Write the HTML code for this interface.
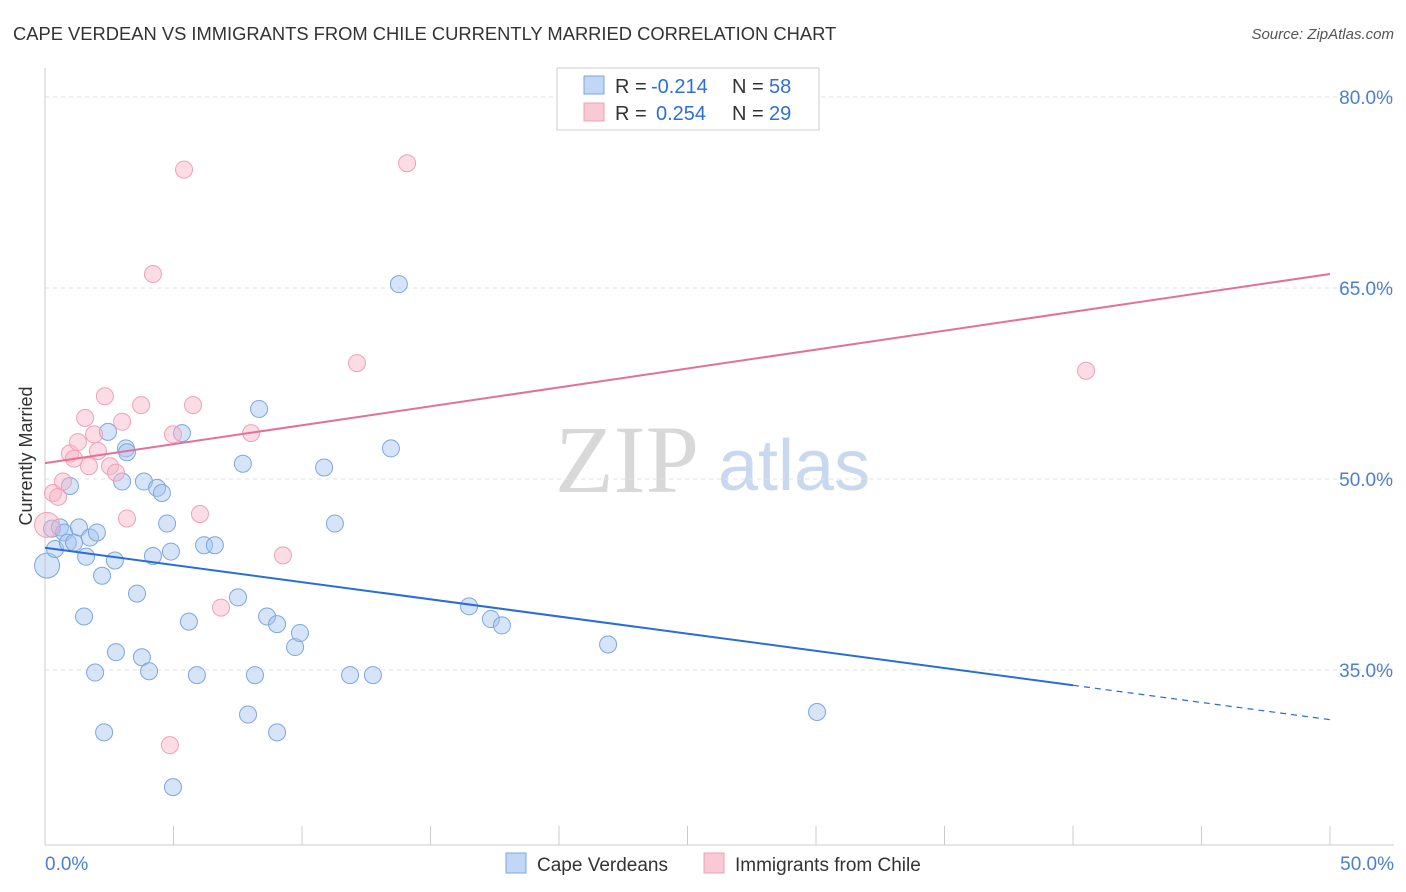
<!DOCTYPE html>
<html><head><meta charset="utf-8"><style>
body{margin:0;background:#fff;font-family:"Liberation Sans",sans-serif;}
#wrap{position:relative;width:1406px;height:892px;overflow:hidden;}
</style></head><body>
<div id="wrap">
<svg id="svg" width="1406" height="892" xmlns="http://www.w3.org/2000/svg">
<text x="13" y="40" font-size="18.35" fill="#333">CAPE VERDEAN VS IMMIGRANTS FROM CHILE CURRENTLY MARRIED CORRELATION CHART</text>
<text x="1394" y="39" font-size="15" fill="#555" text-anchor="end" font-style="italic">Source: ZipAtlas.com</text>
<text x="32" y="456" font-size="18" fill="#333" text-anchor="middle" transform="rotate(-90 32 456)">Currently Married</text>
<text x="555" y="492" font-size="96" fill="#d8d8d8" font-family="Liberation Serif, serif">ZIP</text>
<text x="718" y="490" font-size="72" fill="#c8d8ee">atlas</text>
<g id="grid"></g><g id="marks"></g>
<g>
<rect x="557" y="68" width="262" height="62" fill="#fff" stroke="#ccc"/>
<rect x="584" y="76" width="20" height="18" fill="#c2d7f5" stroke="#7ea6e0"/>
<text x="615" y="93" font-size="20" fill="#333">R =</text>
<text x="651" y="93" font-size="20" fill="#2e6fd6">-0.214</text>
<text x="732" y="93" font-size="20" fill="#333">N =</text>
<text x="769" y="93" font-size="20" fill="#2e6fd6">58</text>
<rect x="584" y="103" width="20" height="18" fill="#f9c9d6" stroke="#f0a0b8"/>
<text x="615" y="120" font-size="20" fill="#333">R =</text>
<text x="656" y="120" font-size="20" fill="#2e6fd6">0.254</text>
<text x="732" y="120" font-size="20" fill="#333">N =</text>
<text x="769" y="120" font-size="20" fill="#2e6fd6">29</text>
</g>
<g>
<rect x="506" y="853" width="20" height="20" fill="#c2d7f5" stroke="#7ea6e0"/>
<text x="537" y="871" font-size="19" fill="#333">Cape Verdeans</text>
<rect x="704" y="853" width="20" height="20" fill="#f9c9d6" stroke="#f0a0b8"/>
<text x="735" y="871" font-size="19" fill="#333">Immigrants from Chile</text>
</g>
</svg>
</div>
<script>
const yTicks=[80,65,50,35];
const xTickLabels=["0.0%","50.0%"];
const blueX=[0.08,0.27,0.39,0.58,0.74,0.89,0.97,1.13,1.32,1.52,1.60,1.75,1.95,2.02,2.22,2.30,2.45,2.72,2.76,3.00,3.15,3.19,3.58,3.77,3.85,4.05,4.20,4.36,4.55,4.75,4.90,4.98,5.33,5.60,5.91,6.19,6.61,7.51,7.70,7.90,8.17,8.33,8.64,9.03,9.03,9.73,9.92,10.86,11.28,11.87,12.76,13.46,13.77,16.50,17.35,17.78,21.91,30.04];
const blueY=[43.2,46.1,44.5,46.2,45.8,45.0,49.45,45.0,46.2,39.2,43.9,45.4,34.8,45.8,42.4,30.1,53.7,43.6,36.4,49.8,52.4,52.1,41.0,36.0,49.8,34.9,43.95,49.3,48.9,46.5,44.3,25.8,53.6,38.8,34.6,44.8,44.8,40.7,51.2,31.5,34.6,55.5,39.2,38.6,30.1,36.8,37.9,50.9,46.5,34.6,34.6,52.4,65.3,40.0,39.0,38.5,37.0,31.7];
const pinkX=[0.08,0.31,0.51,0.70,0.97,1.13,1.28,1.56,1.71,1.91,2.06,2.33,2.53,2.76,3.00,3.19,3.74,4.20,4.86,4.98,5.41,5.76,6.03,6.85,8.02,9.26,12.14,14.09,40.51];
const pinkY=[46.4,48.9,48.6,49.8,52.0,51.6,52.9,54.8,51.0,53.5,52.2,56.5,51.0,50.5,54.5,46.9,55.8,66.1,29.1,53.5,74.3,55.8,47.25,39.9,53.6,44.0,59.1,74.8,58.5];
const blueTrend=[44.6,31.1];
const pinkTrend=[51.25,66.1];
const NS="http://www.w3.org/2000/svg";
const X=v=>45+v*25.7;
const Y=v=>97+(80-v)*12.733;
const grid=document.getElementById('grid'),marks=document.getElementById('marks');
function mk(tag,attrs,parent){const e=document.createElementNS(NS,tag);for(const k in attrs)e.setAttribute(k,attrs[k]);parent.appendChild(e);return e;}
yTicks.forEach(t=>{
 const l=mk('line',{x1:45,x2:1394,y1:Y(t),y2:Y(t),stroke:'#e2e2e2','stroke-dasharray':'4,4'},grid);
 
 
 const tx=mk('text',{x:1393,y:Y(t)+7,'font-size':19,fill:'#4a7fd4','text-anchor':'end'},grid);
 tx.textContent=t.toFixed(1)+'%';
 
 
});
const ax=mk('line',{x1:45,x2:45,y1:68,y2:845,stroke:'#ccc'},grid);


const bx=mk('line',{x1:45,x2:1394,y1:845,y2:845,stroke:'#ccc'},grid);


for(let i=0;i<=10;i++){
 const t=mk('line',{x1:X(i*5),x2:X(i*5),y1:826,y2:845,stroke:'#ccc'},grid);
 
 
}
[[0,'start',45],[50,'end',1394]].forEach((d,i)=>{
 const tx=mk('text',{x:d[2],y:870,'font-size':19,fill:'#4a7fd4','text-anchor':d[1]},grid);
 tx.textContent=xTickLabels[i];
 
 
});
function pts(xs,ys,fill,stroke,name){
 xs.forEach((x,i)=>{
  const c=mk('circle',{cx:X(x),cy:Y(ys[i]),r:i===0?12.5:8.5,fill:fill,stroke:stroke,'stroke-width':1},marks);
  
  
 });
}
pts(blueX,blueY,'rgba(163,196,240,0.45)','#7ea6e0','cape-verdean-point');
pts(pinkX,pinkY,'rgba(248,180,200,0.45)','#f0a0b8','chile-point');
const bAt=v=>blueTrend[0]+(blueTrend[1]-blueTrend[0])*v/50;
const b1=mk('line',{x1:X(0),y1:Y(bAt(0)),x2:X(40),y2:Y(bAt(40)),stroke:'#2a6dd6','stroke-width':2},marks);


const b2=mk('line',{x1:X(40),y1:Y(bAt(40)),x2:X(50),y2:Y(bAt(50)),stroke:'#2a6dd6','stroke-width':1.2,'stroke-dasharray':'6,5'},marks);


const p1=mk('line',{x1:X(0),y1:Y(pinkTrend[0]),x2:X(50),y2:Y(pinkTrend[1]),stroke:'#e4709a','stroke-width':2},marks);


</script>
</body></html>
